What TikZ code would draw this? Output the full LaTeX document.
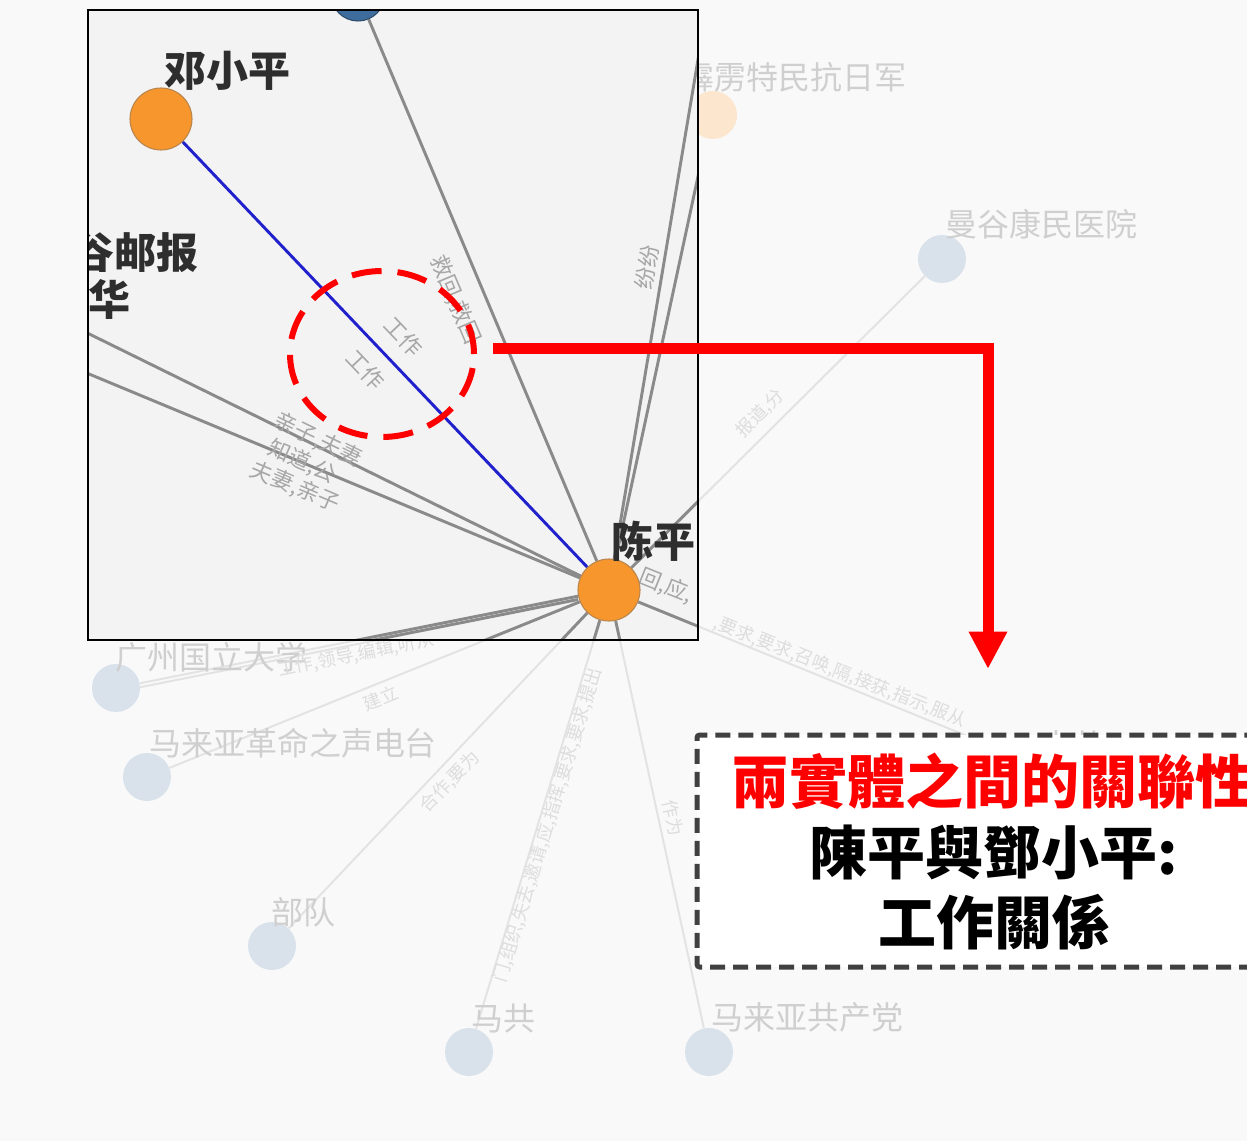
\documentclass[tikz,border=0pt]{standalone}
\usepackage{fontspec}
\newfontfamily\cjksc{Noto Sans CJK SC}
\newfontfamily\cjktc{Noto Sans CJK TC}
\usetikzlibrary{arrows.meta,shapes.geometric}
\definecolor{bgc}{HTML}{F9F9F9}
\definecolor{insetbgc}{HTML}{F3F3F3}
\definecolor{orangeN}{HTML}{F7962C}
\definecolor{orangeS}{HTML}{B8864E}
\definecolor{blueN}{HTML}{3E6C9C}
\definecolor{faintN}{HTML}{D9E2EB}
\definecolor{faintO}{HTML}{FCE6CE}
\definecolor{faintT}{HTML}{CFCFCF}
\definecolor{faintEc}{HTML}{E3E3E3}
\definecolor{faintELc}{HTML}{DDDDDD}
\definecolor{darkEc}{HTML}{8A8A8A}
\definecolor{edgeLabc}{HTML}{A6A6A6}
\definecolor{blueEc}{HTML}{2020CC}
\definecolor{boxdash}{HTML}{404040}
\definecolor{redA}{HTML}{FF0000}
\definecolor{labdark}{HTML}{2E2E2E}
\pgfdeclarelayer{back}
\pgfdeclarelayer{faintE}
\pgfdeclarelayer{faint}
\pgfdeclarelayer{insetbg}
\pgfdeclarelayer{insetedge}
\pgfsetlayers{back,faintE,faint,insetbg,insetedge,main}
\tikzset{
  orangenode/.style={circle, fill=orangeN, draw=orangeS, line width=0.8pt, minimum size=46.5pt, inner sep=0pt},
  bluenode/.style={circle, fill=blueN, draw=blueN!70!black, line width=0.8pt, minimum size=40.5pt, inner sep=0pt},
  faintnode/.style={circle, fill=faintN, minimum size=36pt, inner sep=0pt},
  faintlab/.style={text=faintT, font=\cjksc\fontsize{24}{24}\selectfont, inner sep=0pt},
  boldlab/.style={text=labdark, font=\cjksc\bfseries\fontsize{31.5}{31.5}\selectfont, inner sep=0pt},
  faintedge/.style={draw=faintEc, line width=1.5pt},
  darkedge/.style={draw=darkEc, line width=2.2pt},
  blueedge/.style={draw=blueEc, line width=2.2pt},
  elab/.style={text=edgeLabc, font=\cjksc\fontsize{16.5}{16.5}\selectfont, inner sep=0pt},
  felab/.style={text=faintELc, font=\cjksc\fontsize{13.5}{13.5}\selectfont, inner sep=0pt},
  redring/.style={ellipse, draw=redA, line width=4.5pt, dash pattern=on 22.5pt off 12pt, minimum width=138pt, minimum height=124.5pt, inner sep=0pt},
  redarrow/.style={draw=redA, line width=8.25pt, line join=miter, -{Triangle[width=27pt,length=28pt]}},
  notebox/.style={draw=boxdash, fill=white, line width=3.75pt, dash pattern=on 11.25pt off 6pt, rounded corners=2pt, minimum width=423.75pt, minimum height=174pt, inner sep=0pt, outer sep=0pt},
  redtitle/.style={text=redA, font=\cjktc\bfseries\fontsize{43.5}{43.5}\selectfont, inner sep=0pt},
  blacktitle/.style={text=black, font=\cjktc\bfseries\fontsize{43.5}{43.5}\selectfont, inner sep=0pt},
  insetframe/.style={draw=black, line width=1.5pt}
}
\begin{document}
\begin{tikzpicture}[x=0.75pt,y=-0.75pt]
\useasboundingbox (0,0) rectangle (1247,1141);

% ---------- background ----------
\begin{pgfonlayer}{back}
  \fill[bgc] (0,0) rectangle (1247,1141);
\end{pgfonlayer}

% ---------- faint graph nodes and labels ----------
\begin{pgfonlayer}{faint}
  \node[faintnode] (GZ) at (116,688) {};
  \node[faintnode] (MR) at (147,777) {};
  \node[faintnode] (BD) at (272,946) {};
  \node[faintnode] (MG) at (469,1052) {};
  \node[faintnode] (MCP) at (709,1052) {};
  \node[faintnode] (MK) at (942,259) {};
  \node[faintnode, fill=faintO] (KR) at (713,115) {};
  \coordinate (ZG) at (1075,780);
  \node[faintlab] (lGZ) at (211,657) {广州国立大学};
  \node[faintlab] (lMR) at (293,743) {马来亚革命之声电台};
  \node[faintlab] (lBD) at (303,912) {部队};
  \node[faintlab] (lMG) at (503,1018) {马共};
  \node[faintlab] (lMCP) at (807,1017) {马来亚共产党};
  \node[faintlab] (lMK) at (1041,224) {曼谷康民医院};
  \node[faintlab, anchor=east] (lKR) at (907,77) {霹雳特民抗日军};
  \node[faintlab] (lZG) at (1072,745) {中共};
  \node[felab, rotate=11.4] (e1) at (356,655) {工作,领导,编辑,听从};
  \node[felab, rotate=22] (e2) at (381,698) {建立};
  \node[felab, rotate=46.4] (e3) at (450,782) {合作,要为};
  \node[felab, rotate=73] (e4) at (548,825) {门,组织,失去,邀请,应,指挥,要求,要求,提出};
  \node[felab, rotate=-78] (e5) at (673,818) {作为};
  \node[felab, rotate=-21.6] (e6) at (840,672) {,要求,要求,召唤,隔,接获,指示,服从};
  \node[felab, rotate=45] (e7) at (760,413) {报道,分};
\end{pgfonlayer}

% ---------- inset nodes (main layer, clipped) ----------
\begin{scope}
  \clip (88,10) rectangle (698,640);
  \node[bluenode] (B) at (358,-6) {};
  \node[orangenode] (D) at (161,119) {};
  \node[orangenode] (C) at (609,590) {};
  \node[boldlab] (lD) at (227,71) {邓小平};
  \node[boldlab] (lC) at (653,541) {陈平};
  \node[boldlab, anchor=east] (lMP) at (199,253) {曼谷邮报};
  \node[boldlab, anchor=east] (lXH) at (131,299) {华};
\end{scope}
\coordinate (U1) at (708,0);
\coordinate (U2) at (736,0);
\coordinate (L1) at (0,290);
\coordinate (L2) at (0,337);

% ---------- faint edges ----------
\begin{pgfonlayer}{faintE}
  \draw[faintedge] (C) -- (MK);
  \draw[faintedge] (C) -- (GZ);
  \draw[faintedge, transform canvas={yshift=-3pt}] (C) -- (GZ);
  \draw[faintedge] (C) -- (MR);
  \draw[faintedge] (C) -- (BD);
  \draw[faintedge] (C) -- (MG);
  \draw[faintedge] (C) -- (MCP);
  \draw[faintedge] (C) -- (ZG);
\end{pgfonlayer}

% ---------- inset background ----------
\begin{pgfonlayer}{insetbg}
  \fill[insetbgc] (88,10) rectangle (698,640);
\end{pgfonlayer}

% ---------- inset edges and edge labels ----------
\begin{pgfonlayer}{insetedge}
  \begin{scope}
    \clip (88,10) rectangle (698,640);
    \draw[darkedge] (C) -- (B);
    \draw[darkedge] (C) -- (U1);
    \draw[darkedge] (C) -- (U2);
    \draw[darkedge] (C) -- (L1);
    \draw[darkedge] (C) -- (L2);
    \draw[darkedge] (C) -- (GZ);
    \draw[darkedge, transform canvas={yshift=-2.5pt}] (C) -- (GZ);
    \draw[darkedge] (C) -- (MR);
    \draw[darkedge] (C) -- (BD);
    \draw[darkedge] (C) -- (MG);
    \draw[darkedge] (C) -- (MCP);
    \draw[darkedge] (C) -- (ZG);
    \draw[darkedge] (C) -- (MK);
    \draw[blueedge] (C) -- (D);
    \node[elab, rotate=-46.4] (w1) at (404,337) {工作};
    \node[elab, rotate=-46.4] (w2) at (366,370) {工作};
    \node[elab, rotate=-67] (w3) at (455,300) {救回,救回};
    \node[elab, rotate=-26] (w4) at (318,440) {亲子,夫妻};
    \node[elab, rotate=-24] (w5) at (302,462) {知道,公};
    \node[elab, rotate=-23] (w6) at (295,487) {夫妻,亲子};
    \node[elab, rotate=-22] (w7) at (666,586) {回,应,};
    \node[elab, rotate=81] (w8) at (647,267) {纷纷};
  \end{scope}
\end{pgfonlayer}

% ---------- inset frame ----------
\draw[insetframe] (88,10) rectangle (698,640);

% ---------- highlight ring and arrow ----------
\node[redring] (ring) at (382,354) {};
\coordinate (arrS) at (493,349);
\coordinate (arrE) at (988,669);
\draw[redarrow] (arrS) -| (arrE);

% ---------- note box ----------
\node[notebox, anchor=north west] (note) at (697,735) {};
\node[redtitle] (t1) at (992,781) {兩實體之間的關聯性};
\node[blacktitle] (t2) at (994,852) {陳平與鄧小平:};
\node[blacktitle] (t3) at (994,922) {工作關係};
\end{tikzpicture}
\end{document}
